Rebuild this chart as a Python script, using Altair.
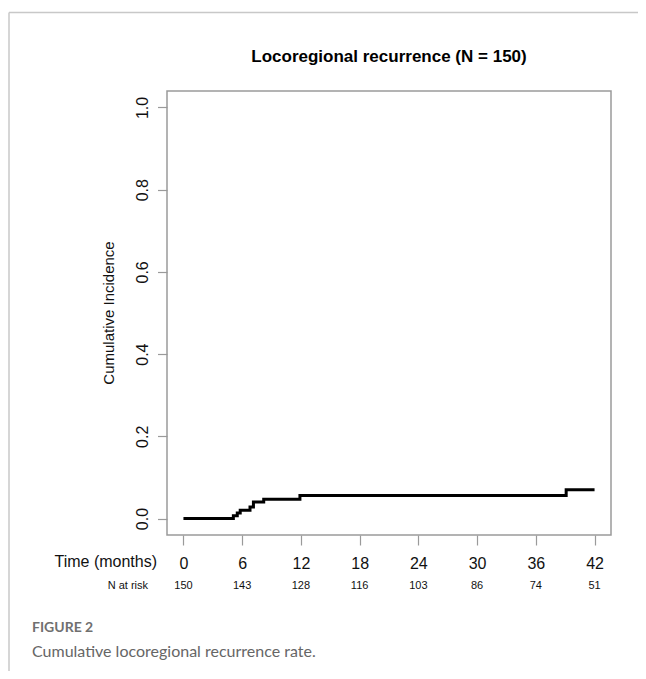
import altair as alt
import pandas as pd

# Step curve (cumulative incidence)
times = [0, 5.1, 5.5, 5.8, 6.8, 7.15, 8.2, 11.9, 39.1, 42.0]
cuminc = [0.0, 0.0067, 0.0133, 0.02, 0.028, 0.04, 0.047, 0.056, 0.07, 0.07]

# Number at risk table
risk_times = [0, 6, 12, 18, 24, 30, 36, 42]
n_at_risk = [150, 143, 128, 116, 103, 86, 74, 51]

x_ticks = [0, 6, 12, 18, 24, 30, 36, 42]
y_ticks = [0.0, 0.2, 0.4, 0.6, 0.8, 1.0]

title_text = "Locoregional recurrence (N = 150)"
y_title = "Cumulative Incidence"
x_title = "Time (months)"
risk_title = "N at risk"
fig_label = "FIGURE 2"
fig_caption = "Cumulative locoregional recurrence rate."

W, H = 444, 444
FONT = "Liberation Sans"
GRAY = "#9a9a9a"

curve = pd.DataFrame({"t": times, "ci": cuminc})
risk = pd.DataFrame({"t": risk_times, "n": [str(v) for v in n_at_risk]})

xscale = alt.Scale(domain=[-1.68, 43.68], nice=False, zero=False)
yscale = alt.Scale(domain=[-0.04, 1.04], nice=False, zero=False)

xaxis = alt.Axis(values=x_ticks, title=None, domain=False, grid=False,
                 tickSize=10, tickColor=GRAY, tickWidth=1.2,
                 labelFontSize=16, labelColor="#111111", labelFont=FONT,
                 labelBaseline="alphabetic", labelPadding=23, format="d")
yaxis = alt.Axis(values=y_ticks, title=None, domain=False, grid=False,
                 tickSize=9.5, tickColor=GRAY, tickWidth=1.2,
                 labelFontSize=16, labelColor="#111111", labelFont=FONT,
                 labelAngle=270, labelAlign="center", labelBaseline="alphabetic",
                 labelPadding=10, format=".1f")

line = alt.Chart(curve).mark_line(interpolate="step-after", color="black",
                                  strokeWidth=3).encode(
    x=alt.X("t:Q", scale=xscale, axis=xaxis),
    y=alt.Y("ci:Q", scale=yscale, axis=yaxis),
)

risk_text = alt.Chart(risk).mark_text(fontSize=11, font=FONT, color="#111111",
                                      align="center", baseline="middle").encode(
    x=alt.X("t:Q", scale=xscale),
    y=alt.value(495),
    text="n:N",
)

def label(txt, x, y, **kw):
    return alt.Chart(pd.DataFrame({"s": [txt]})).mark_text(**kw).encode(
        x=alt.value(x), y=alt.value(y), text="s:N")

title = label(title_text, W / 2, -29, fontSize=17, font=FONT, fontWeight="bold",
              color="#000000", align="center", baseline="alphabetic")
ytitle = label(y_title, -58, H / 2, fontSize=15, font=FONT, color="#111111",
               angle=270, align="center", baseline="middle")
xtitle = label(x_title, -10, 471, fontSize=16, font=FONT, color="#111111",
               align="right", baseline="middle")
rtitle = label(risk_title, -19, 495, fontSize=11, font=FONT, color="#111111",
               align="right", baseline="middle")
fig = label(fig_label, -135, 537, fontSize=14, font="Lato", fontWeight="bold",
            color="#707070", align="left", baseline="middle")
cap = label(fig_caption, -135, 561, fontSize=16, font="Lato", color="#666666",
            align="left", baseline="middle")

top_rule = alt.Chart(pd.DataFrame({"a": [0]})).mark_rule(
    color="#c8c8c8", strokeWidth=1.5).encode(
    x=alt.value(-158), x2=alt.value(479), y=alt.value(-78.5))
left_rule = alt.Chart(pd.DataFrame({"a": [0]})).mark_rule(
    color="#c8c8c8", strokeWidth=1.5).encode(
    x=alt.value(-158), y=alt.value(-78.5), y2=alt.value(600))

chart = alt.layer(top_rule, left_rule, line, risk_text, title, ytitle, xtitle,
                  rtitle, fig, cap).properties(
    width=W, height=H,
    background="white",
    autosize=alt.AutoSizeParams(type="none"),
    padding={"left": 159, "top": 83, "right": 27, "bottom": 136},
).configure_view(stroke=GRAY, strokeWidth=1.5)

chart.save("out.html", embed_options={"renderer": "svg", "actions": False})
